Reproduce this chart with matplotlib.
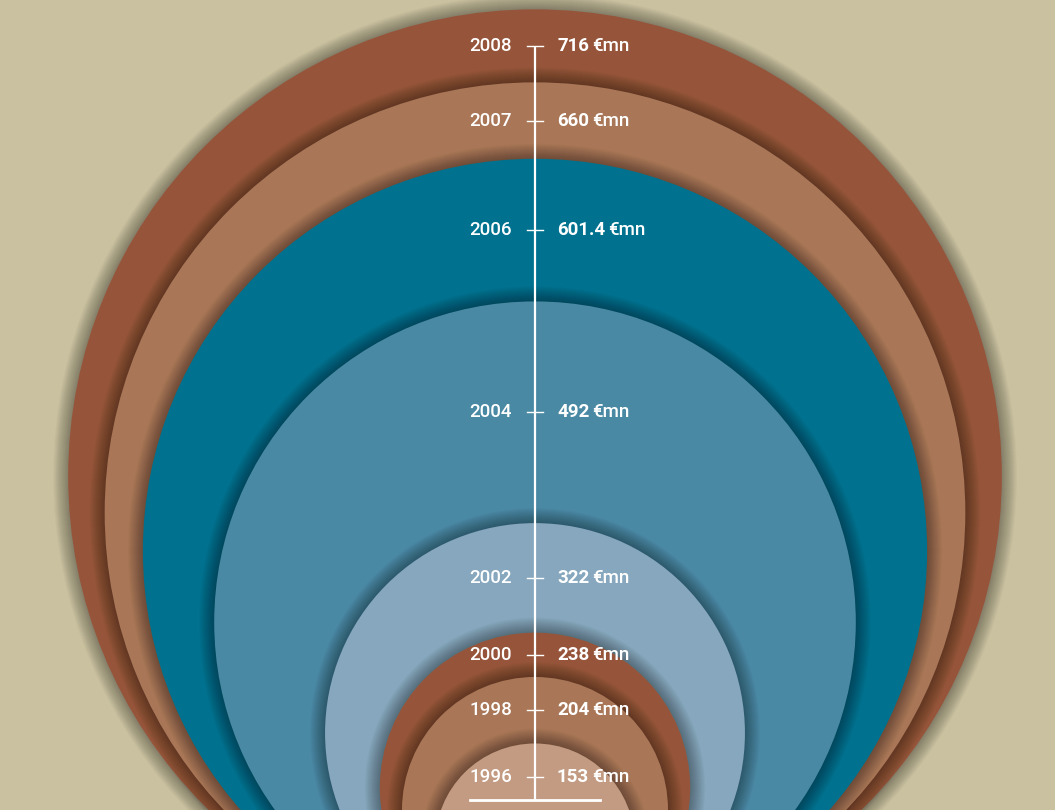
import matplotlib
matplotlib.use("Agg")
import matplotlib.pyplot as plt
from matplotlib.patches import Circle

# data
years = ["2008", "2007", "2006", "2004", "2002", "2000", "1998", "1996"]
values = [716, 660, 601.4, 492, 322, 238, 204, 153]
value_labels = ["716", "660", "601.4", "492", "322", "238", "204", "153"]
colors = ["#96553A", "#A97757", "#00718F", "#4A89A4", "#86A7BD",
          "#96553A", "#A97757", "#C39B82"]

W, H = 1055, 810
cx = 535          # axis position
base = 943        # all circles touch this point at the bottom
scale = 1.304     # pixels of diameter per €mn
axis_bottom = 800

fig = plt.figure(figsize=(W / 100, H / 100), dpi=100)
fig.patch.set_facecolor("#C9C19F")
ax = fig.add_axes([0, 0, 1, 1])
ax.set_xlim(0, W)
ax.set_ylim(H, 0)
ax.set_axis_off()
ax.set_facecolor("#C9C19F")

tops = []
for i, (v, c) in enumerate(zip(values, colors)):
    r = v * scale / 2
    cy = base - r
    tops.append(cy - r)
    # soft shadow around each disc
    for k in range(15, 0, -1):
        ax.add_patch(Circle((cx, cy), r + k, color="black", alpha=0.024,
                            lw=0, zorder=2 * i + 1))
    ax.add_patch(Circle((cx, cy), r, color=c, lw=0, zorder=2 * i + 2))

# label positions: middle of each visible band
mids = []
for i in range(len(values)):
    nxt = tops[i + 1] if i + 1 < len(values) else H
    mids.append((tops[i] + nxt) / 2)

z = 50
ax.plot([cx, cx], [mids[0], axis_bottom], color="white", lw=1.6, zorder=z,
        solid_capstyle="butt")
ax.plot([cx - 65, cx + 65], [axis_bottom, axis_bottom], color="white", lw=2,
        zorder=z)

fs = 13.5
fig.canvas.draw()
rend = fig.canvas.get_renderer()
for yr, lab, y in zip(years, value_labels, mids):
    ax.plot([cx - 8, cx + 8], [y, y], color="white", lw=1.0, zorder=z)
    ax.text(cx - 23, y, yr, color="white", fontsize=fs, family="Roboto",
            fontweight="medium", ha="right", va="center", zorder=z)
    t = ax.text(cx + 22, y, lab, color="white", fontsize=fs, family="Roboto",
                fontweight="bold", ha="left", va="center", zorder=z)
    bb = t.get_window_extent(rend)
    x_end = ax.transData.inverted().transform((bb.x1, bb.y0))[0]
    ax.text(x_end + 3, y, "€mn", color="white", fontsize=fs, family="Roboto",
            fontweight="medium", ha="left", va="center", zorder=z)

fig.savefig("out.png", dpi=100, facecolor=fig.get_facecolor())
